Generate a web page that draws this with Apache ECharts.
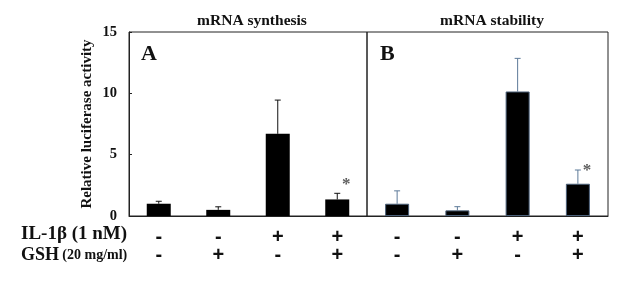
<!DOCTYPE html>
<html>
<head>
<meta charset="utf-8">
<script src="https://cdn.jsdelivr.net/npm/echarts@6/dist/echarts.min.js"></script>
<style>
  html, body { margin: 0; padding: 0; background: #fff; }
  #chart { width: 641px; height: 282px; }
</style>
</head>
<body>
<div id="chart"></div>
<script>
// treatment rows under each bar
var il1b = ['-', '-', '+', '+'];
var gsh = ['-', '+', '-', '+'];
var cats = ['0', '1', '2', '3'];

// A: mRNA synthesis
var synthMean = [1.0, 0.5, 6.7, 1.35];
var synthTop = [1.2, 0.75, 9.45, 1.85];
var synthStar = [null, null, null, 2.85];

// B: mRNA stability
var stabMean = [1.0, 0.46, 10.15, 2.63];
var stabTop = [2.05, 0.76, 12.85, 3.75];
var stabStar = [null, null, null, 4.0];

var yTicks = [0, 5, 10, 15];

var serif = 'Liberation Serif';

function errData(mean, top) {
    return mean.map(function (m, i) { return [i, m, top[i]]; });
}
function starData(arr) {
    var out = [];
    arr.forEach(function (v, i) { if (v != null) out.push([i, v]); });
    return out;
}
function errRender(color) {
    return function (params, api) {
        var lo = api.coord([api.value(0), api.value(1)]);
        var hi = api.coord([api.value(0), api.value(2)]);
        var style = { stroke: color, lineWidth: 1 };
        return {
            type: 'group',
            children: [
                { type: 'line', shape: { x1: lo[0], y1: lo[1], x2: hi[0], y2: hi[1] }, style: style },
                { type: 'line', shape: { x1: hi[0] - 3, y1: hi[1], x2: hi[0] + 3, y2: hi[1] }, style: style }
            ]
        };
    };
}

var chart = echarts.init(document.getElementById('chart'));

var xAxisBase = function (gi) {
    return {
        type: 'category',
        gridIndex: gi,
        data: cats,
        axisLine: { lineStyle: { color: '#222', width: 1 } },
        axisTick: { show: false },
        axisLabel: {
            margin: 12,
            interval: 0,
            fontFamily: 'Liberation Sans',
            fontWeight: 'bold',
            fontSize: 20,
            lineHeight: 18,
            color: '#111',
            formatter: function (v, i) { return il1b[i] + '\n' + gsh[i]; }
        }
    };
};

chart.setOption({
    animation: false,
    title: [
        { text: 'mRNA synthesis', left: 247, top: 8, textAlign: 'center',
          textStyle: { fontFamily: serif, fontWeight: 'bold', fontSize: 15.5, color: '#111' } },
        { text: 'mRNA stability', left: 487, top: 8, textAlign: 'center',
          textStyle: { fontFamily: serif, fontWeight: 'bold', fontSize: 15.5, color: '#111' } }
    ],
    grid: [
        { left: 129, top: 32, width: 238, height: 184, show: true, borderColor: '#222', borderWidth: 1, backgroundColor: 'transparent' },
        { left: 367, top: 32, width: 241, height: 184, show: true, borderColor: '#222', borderWidth: 1, backgroundColor: 'transparent' }
    ],
    xAxis: [xAxisBase(0), xAxisBase(1)],
    yAxis: [
        {
            type: 'value', gridIndex: 0, min: 0, max: 15, interval: 5,
            name: 'Relative luciferase activity',
            nameLocation: 'middle', nameGap: 34, nameRotate: 90,
            nameTextStyle: { fontFamily: serif, fontWeight: 'bold', fontSize: 15, color: '#111' },
            axisLine: { show: true, lineStyle: { color: '#222' } },
            axisTick: { show: true, inside: true, length: 3, lineStyle: { color: '#222' } },
            splitLine: { show: false },
            axisLabel: {
                margin: 12, fontFamily: serif, fontWeight: 'bold', fontSize: 14.5, color: '#111',
                formatter: function (v) { return yTicks.indexOf(v) >= 0 ? String(v) : ''; }
            }
        },
        { type: 'value', gridIndex: 1, min: 0, max: 15, interval: 5, show: false, splitLine: { show: false } }
    ],
    graphic: [
        { type: 'text', left: 141, top: 43, style: { text: 'A', font: 'bold 22px "Liberation Serif"', fill: '#111' } },
        { type: 'text', left: 380, top: 43, style: { text: 'B', font: 'bold 22px "Liberation Serif"', fill: '#111' } },
        { type: 'text', left: 21, top: 225, style: { text: 'IL-1β (1 nM)', font: 'bold 19px "Liberation Serif"', fill: '#111' } },
        { type: 'text', left: 21, top: 246, style: {
            text: '{a|GSH} {b|(20 mg/ml)}',
            rich: {
                a: { fontFamily: serif, fontWeight: 'bold', fontSize: 18, fill: '#111' },
                b: { fontFamily: serif, fontWeight: 'bold', fontSize: 14, fill: '#111' }
            }
        } }
    ],
    series: [
        { type: 'bar', xAxisIndex: 0, yAxisIndex: 0, data: synthMean, barWidth: 24,
          itemStyle: { color: '#000' } },
        { type: 'custom', xAxisIndex: 0, yAxisIndex: 0, data: errData(synthMean, synthTop),
          renderItem: errRender('#111'), z: 1 },
        { type: 'scatter', xAxisIndex: 0, yAxisIndex: 0, data: starData(synthStar), symbolSize: 0,
          label: { show: true, position: 'inside', offset: [9, 4], formatter: '*', fontFamily: serif, fontWeight: 'bold', fontSize: 17, color: '#333' } },
        { type: 'bar', xAxisIndex: 1, yAxisIndex: 1, data: stabMean, barWidth: 24,
          itemStyle: { color: '#000', borderColor: '#4a5f78', borderWidth: 1 } },
        { type: 'custom', xAxisIndex: 1, yAxisIndex: 1, data: errData(stabMean, stabTop),
          renderItem: errRender('#5d7a99'), z: 1 },
        { type: 'scatter', xAxisIndex: 1, yAxisIndex: 1, data: starData(stabStar), symbolSize: 0,
          label: { show: true, position: 'inside', offset: [9, 4], formatter: '*', fontFamily: serif, fontWeight: 'bold', fontSize: 17, color: '#333' } }
    ]
});
</script>
</body>
</html>
